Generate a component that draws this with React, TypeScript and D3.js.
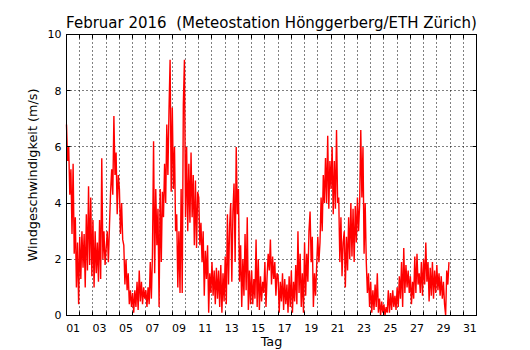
import React, { useEffect, useRef } from 'react'
import { select, scaleLinear, line, range } from 'd3'

const chartTitle = 'Februar 2016  (Meteostation Hönggerberg/ETH Zürich)'
const yAxisLabel = 'Windgeschwindigkeit (m/s)'
const xAxisLabel = 'Tag'

const daysOnAxis = 31
const readingsPerDay = 12 // one reading every 2 hours

// wind speed in m/s, Feb 1 .. Feb 29
const windSpeed: number[] = [
  6.8, 5.5, 6.0, 4.3, 5.2, 2.9, 5.4, 2.2, 3.5, 1.0, 2.6, 0.4, // 01
  2.8, 1.3, 3.0, 1.7, 2.9, 1.0, 3.6, 1.6, 4.6, 1.8, 4.2, 1.4, // 02
  3.4, 1.0, 3.0, 1.5, 2.6, 1.2, 3.4, 1.3, 5.6, 2.0, 3.0, 1.8, // 03
  2.4, 3.0, 1.9, 3.2, 4.4, 5.2, 4.3, 7.1, 5.0, 5.8, 3.6, 5.0, // 04
  4.5, 2.9, 4.0, 2.7, 2.5, 1.1, 2.0, 0.9, 1.5, 0.4, 0.9, 0.3, // 05
  0.8, 0.1, 0.9, 0.3, 1.2, 0.2, 1.6, 0.5, 1.2, 0.4, 1.0, 0.6, // 06
  0.9, 0.3, 1.0, 0.4, 1.9, 0.6, 2.2, 6.2, 1.5, 4.5, 2.5, 3.8, // 07
  0.3, 4.5, 1.9, 4.4, 3.5, 5.4, 4.0, 6.8, 5.0, 7.3, 9.1, 4.4, // 08
  7.4, 4.5, 6.0, 3.0, 3.6, 1.0, 3.0, 0.8, 4.5, 0.8, 7.5, 9.1, // 09
  3.5, 6.0, 3.0, 5.4, 3.3, 5.8, 3.5, 5.0, 2.5, 4.8, 2.4, 4.4, // 10
  4.2, 2.5, 3.3, 1.9, 3.0, 0.7, 2.3, 1.3, 2.5, 0.1, 1.5, 0.8, // 11
  1.9, 0.7, 1.6, 0.4, 1.7, 0.6, 1.6, 0.3, 1.8, 0.1, 1.5, 0.5, // 12
  2.1, 0.4, 3.6, 1.1, 3.2, 4.0, 1.2, 3.7, 4.7, 1.9, 6.0, 3.6, // 13
  4.5, 1.2, 2.5, 0.3, 2.0, 0.7, 2.9, 0.9, 3.5, 0.2, 1.6, 0.4, // 14
  1.6, 0.4, 1.3, 0.6, 2.7, 0.3, 2.0, 0.2, 1.4, 0.5, 1.2, 0.8, // 15
  1.9, 0.3, 1.4, 2.2, 1.6, 2.7, 1.1, 2.1, 1.3, 1.9, 0.7, 1.5, // 16
  1.4, 0.1, 1.2, 0.5, 1.5, 0.2, 1.3, 0.4, 1.1, 0.1, 1.4, 0.3, // 17
  1.6, 0.1, 1.2, 0.5, 1.8, 0.4, 3.0, 0.8, 2.2, 0.3, 1.5, 0.1, // 18
  2.6, 0.7, 2.2, 1.2, 3.0, 3.7, 1.9, 2.8, 0.3, 1.5, 0.7, 1.8, // 19
  2.8, 1.9, 2.6, 4.2, 3.0, 5.0, 4.0, 5.6, 4.0, 6.4, 3.8, 5.5, // 20
  4.5, 6.0, 3.6, 5.5, 3.8, 6.6, 4.0, 4.2, 1.9, 3.5, 1.4, 2.6, // 21
  3.0, 1.0, 2.8, 1.6, 3.5, 2.0, 4.0, 2.1, 3.8, 1.9, 3.9, 2.6, // 22
  4.2, 3.0, 4.0, 6.6, 4.2, 6.0, 2.2, 4.0, 1.9, 0.8, 1.5, 0.3, // 23
  1.2, 0.1, 0.9, 0.2, 1.1, 0.3, 1.5, 0.1, 0.6, 0.0, 0.5, 0.1, // 24
  0.4, 0.0, 0.3, 0.1, 0.9, 0.1, 0.8, 0.2, 0.9, 0.3, 0.7, 0.2, // 25
  1.0, 0.3, 1.4, 0.6, 1.9, 0.3, 2.4, 0.8, 1.8, 1.0, 1.6, 0.8, // 26
  1.4, 0.4, 1.2, 0.6, 2.1, 0.8, 2.2, 1.1, 1.5, 0.8, 1.9, 0.7, // 27
  2.0, 1.1, 2.6, 1.2, 1.9, 0.5, 1.7, 0.7, 1.9, 0.6, 1.6, 0.8, // 28
  1.8, 0.9, 1.5, 0.7, 1.4, 0.6, 1.2, 0.4, 0.0, 1.6, 1.1, 1.9, // 29
]

const dayTickLabels = ['01', '03', '05', '07', '09', '11', '13', '15', '17', '19', '21', '23', '25', '27', '29', '31']
const speedTicks = [0, 2, 4, 6, 8, 10]

function App() {
  const svgRef = useRef<SVGSVGElement>(null)

  useEffect(() => {
    const margin = { top: 34, right: 54, bottom: 35, left: 66 },
      width = 530 - margin.left - margin.right,
      height = 350 - margin.top - margin.bottom

    const svg = select(svgRef.current)
    svg.selectAll('*').remove()
    svg.append('rect').attr('width', 530).attr('height', 350).attr('fill', 'white')

    const g = svg.append('g').attr('transform', `translate(${margin.left + 0.5},${margin.top + 0.5})`)

    const x = scaleLinear().domain([0, daysOnAxis]).range([0, width])
    const y = scaleLinear().domain([0, 10]).range([height, 0])

    const font = 'DejaVu Sans, sans-serif'

    // dotted grid
    g.selectAll('.vgrid')
      .data(range(1, daysOnAxis))
      .enter().append('line')
      .attr('x1', d => Math.round(x(d))).attr('x2', d => Math.round(x(d)))
      .attr('y1', 0).attr('y2', height)
      .style('stroke', '#000').style('stroke-dasharray', '1,3').style('stroke-width', 1)

    g.selectAll('.hgrid')
      .data(speedTicks.slice(1, -1))
      .enter().append('line')
      .attr('x1', 0).attr('x2', width)
      .attr('y1', d => Math.round(y(d))).attr('y2', d => Math.round(y(d)))
      .style('stroke', '#000').style('stroke-dasharray', '1,3').style('stroke-width', 1)

    // wind line
    const wind = line<number>()
      .x((_, i) => x(i / readingsPerDay))
      .y(d => y(d))

    g.append('path')
      .datum(windSpeed)
      .attr('d', wind)
      .style('fill', 'none')
      .style('stroke', '#ff0000')
      .style('stroke-width', 1.4)

    // frame
    g.append('rect')
      .attr('width', width).attr('height', height)
      .style('fill', 'none').style('stroke', '#000').style('stroke-width', 1)

    // inward tick marks, top and bottom
    range(1, daysOnAxis).forEach(d => {
      const px = Math.round(x(d))
      g.append('line').attr('x1', px).attr('x2', px).attr('y1', height).attr('y2', height - 4).style('stroke', '#000')
      g.append('line').attr('x1', px).attr('x2', px).attr('y1', 0).attr('y2', 4).style('stroke', '#000')
    })
    speedTicks.forEach(v => {
      const py = Math.round(y(v))
      g.append('line').attr('x1', 0).attr('x2', 4).attr('y1', py).attr('y2', py).style('stroke', '#000')
      g.append('line').attr('x1', width).attr('x2', width - 4).attr('y1', py).attr('y2', py).style('stroke', '#000')
    })

    // day labels sit at noon of every second day
    g.selectAll('.xlab')
      .data(dayTickLabels)
      .enter().append('text')
      .attr('x', (_, i) => x(i * 2 + 0.5))
      .attr('y', height + 16)
      .attr('text-anchor', 'middle')
      .style('font-family', font).style('font-size', '11px')
      .text(d => d)

    g.selectAll('.ylab')
      .data(speedTicks)
      .enter().append('text')
      .attr('x', -5)
      .attr('y', d => y(d))
      .attr('dy', '0.36em')
      .attr('text-anchor', 'end')
      .style('font-family', font).style('font-size', '11px')
      .text(d => d)

    g.append('text')
      .attr('x', width / 2).attr('y', height + 30)
      .attr('text-anchor', 'middle')
      .style('font-family', font).style('font-size', '12.8px')
      .text(xAxisLabel)

    g.append('text')
      .attr('transform', `translate(-30,${height / 2}) rotate(-90)`)
      .attr('text-anchor', 'middle')
      .style('font-family', font).style('font-size', '12.8px')
      .text(yAxisLabel)

    g.append('text')
      .attr('x', width / 2).attr('y', -7)
      .attr('text-anchor', 'middle')
      .style('font-family', font).style('font-size', '15px')
      .style('white-space', 'pre')
      .text(chartTitle)
  }, [])

  return (
    <svg ref={svgRef} width={530} height={350} style={{ position: 'absolute', left: 0, top: 0 }}></svg>
  )
}

export default App
